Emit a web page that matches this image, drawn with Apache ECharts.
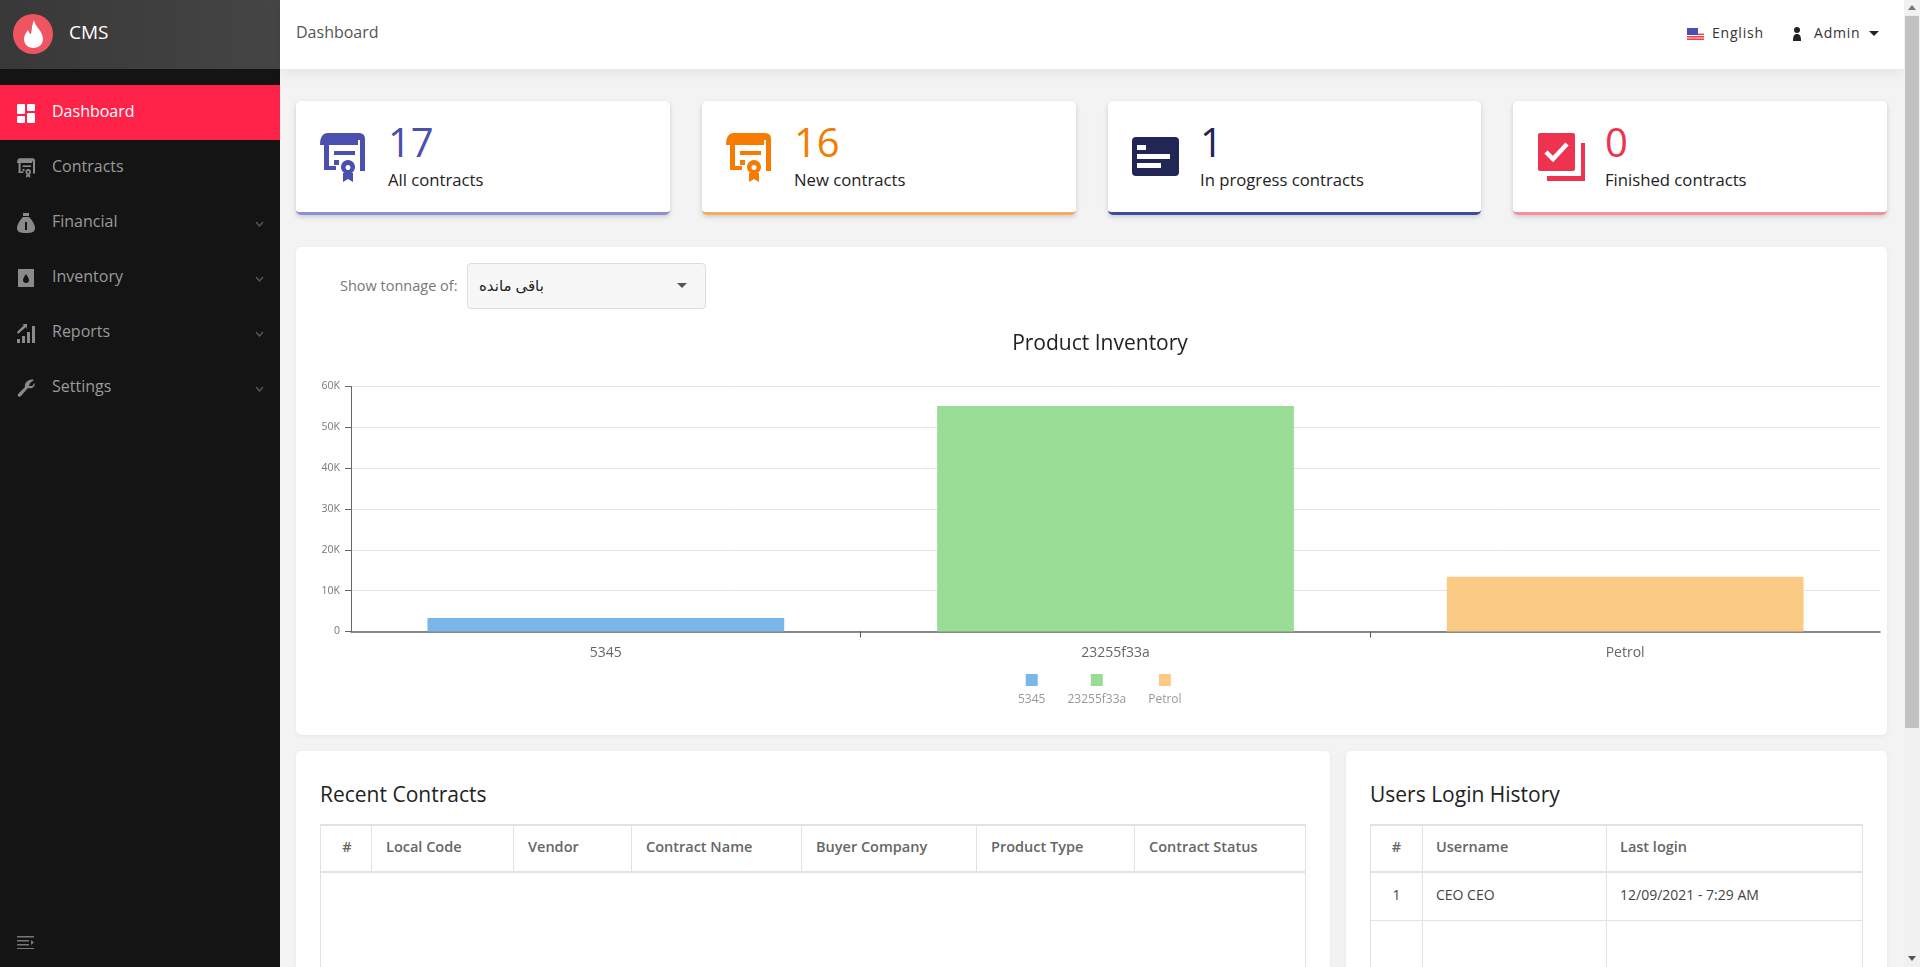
<!DOCTYPE html>
<html>
<head>
<meta charset="utf-8">
<title>CMS</title>
<script src="https://cdn.jsdelivr.net/npm/echarts@6/dist/echarts.min.js"></script>
<style>
* { box-sizing: border-box; }
html, body { margin: 0; height: 100%; overflow: hidden; }
body { width: 1920px; height: 967px; background: #f3f3f3; font-family: 'Open Sans', 'DejaVu Sans', sans-serif; color: #222; position: relative; }
.abs { position: absolute; white-space: nowrap; }

.sidebar { position: absolute; left: 0; top: 0; width: 280px; height: 967px; background: #141414; }
.brand { position: absolute; left: 0; top: 0; width: 280px; height: 69px; background: linear-gradient(90deg, #383838, #454545); }
.brand .name { position: absolute; left: 69px; top: 20px; font-size: 19px; line-height: 24px; color: #fff; font-weight: 500; }
.menu { position: absolute; left: 0; width: 280px; height: 55px; color: #9a9a9a; font-size: 16px; line-height: 53px; padding-left: 52px; }
.menu.active { background: #ff2248; color: #fff; }
.menu svg.ico { position: absolute; left: 17px; top: 18px; width: 18px; height: 20px; }
.menu svg.chev { position: absolute; left: 255px; top: 26px; width: 9px; height: 6px; }

.topbar { position: absolute; left: 280px; top: 0; width: 1624px; height: 69px; background: #fff; box-shadow: 0 2px 14px rgba(0,0,0,.08); }
.card { position: absolute; background: #fff; border-radius: 5px; box-shadow: 0 1px 4px rgba(0,0,0,.06); }
.stat { top: 101px; width: 374px; height: 114px; border-bottom: 3px solid; box-shadow: 0 2px 5px rgba(0,0,0,.16); }
.stat .num { position: absolute; left: 92px; top: 14px; font-size: 40px; line-height: 54px; font-weight: 500; }
.stat .lbl { position: absolute; left: 92px; top: 68px; font-size: 16.7px; line-height: 22px; color: #222; font-weight: 500; }
.stat svg { position: absolute; }

#chart { position: absolute; left: 296px; top: 320px; width: 1591px; height: 415px; }
.select { position: absolute; left: 467px; top: 263px; width: 239px; height: 46px; background: #f7f7f7; border: 1px solid #ddd; border-radius: 4px; font-size: 15px; line-height: 43px; padding-left: 11px; color: #222; }
.caret { position: absolute; width: 0; height: 0; border-left: 5px solid transparent; border-right: 5px solid transparent; border-top: 5px solid #555; }

h4 { position: absolute; margin: 0; font-size: 21px; line-height: 26px; font-weight: 500; color: #222; white-space: nowrap; }
table { position: absolute; border-collapse: collapse; table-layout: fixed; font-size: 14px; background: #fff; }
th, td { border: 1px solid #e2e2e2; padding: 0 0 4px 13px; text-align: left; white-space: nowrap; }
th { border-top-width: 2px; border-bottom-width: 2px; height: 47px; color: #666; font-weight: 600; font-size: 14.5px; }
td { height: 48px; color: #444; }
th.c, td.c { text-align: center; padding: 0 0 4px 0; }
.recent th { padding-left: 14px; }
.recent th.c { padding-left: 2px; }

.sb { position: absolute; left: 1904px; top: 0; width: 16px; height: 967px; background: #f1f1f1; }
.sb .thumb { position: absolute; left: 1px; top: 16px; width: 14px; height: 712px; background: #c1c1c1; }
</style>
</head>
<body>

<svg width="0" height="0" style="position:absolute">
  <symbol id="cert" viewBox="0 0 45 49">
    <path d="M0 12 Q0 0 8 0 H39 Q45 0 45 6 V38 H40 V7 H38 V12 Z"/>
    <rect x="4" y="12" width="5" height="25"/>
    <rect x="4" y="33" width="12" height="4"/>
    <rect x="14" y="18" width="21" height="4"/>
    <rect x="14" y="27" width="5" height="5"/>
    <path fill-rule="evenodd" d="M28 27 a7 7 0 1 1 -0.01 0 Z M28 32 a2.5 2.5 0 1 0 0.01 0 Z"/>
    <path d="M23 40 L33 40 L33 49 L28 46 L23 49 Z"/>
  </symbol>
  <symbol id="chev" viewBox="0 0 9 6">
    <path d="M1 1 L4.5 5 L8 1" fill="none" stroke="#555" stroke-width="1.5"/>
  </symbol>
</svg>

<div class="sidebar">
  <div class="brand">
    <svg class="abs" style="left:13px;top:14px" width="40" height="40" viewBox="0 0 40 40">
      <circle cx="20" cy="20" r="20" fill="#ef5560"/>
      <path d="M21 6 C22 13 30 17 30 25 C30 31 25 34 20 34 C15 34 11 30 11 25 C11 21 13 19 15 16 C16 19 17 20 18 20 C19 15 19 10 21 6 Z" fill="#fff"/>
    </svg>
    <div class="name">CMS</div>
  </div>
  <div class="menu active" style="top:85px">Dashboard
    <svg class="ico" viewBox="0 0 18 20" fill="#fff"><rect x="0" y="1" width="8" height="10" rx="1"/><rect x="10" y="1" width="8" height="7" rx="1"/><rect x="0" y="13" width="8" height="7" rx="1"/><rect x="10" y="10" width="8" height="10" rx="1"/></svg>
  </div>
  <div class="menu" style="top:140px">Contracts
    <svg class="ico" fill="#8a8a8a"><use href="#cert"/></svg>
  </div>
  <div class="menu" style="top:195px">Financial
    <svg class="ico" viewBox="0 0 18 20" fill="#8a8a8a"><rect x="6" y="0" width="6" height="3"/><path d="M6 4 H12 C16 8 18 12 18 15 C18 19 15 20 9 20 C3 20 0 19 0 15 C0 12 2 8 6 4 Z"/><rect x="8" y="9" width="2" height="8" fill="#141414"/></svg>
    <svg class="chev"><use href="#chev"/></svg>
  </div>
  <div class="menu" style="top:250px">Inventory
    <svg class="ico" viewBox="0 0 18 20" fill="#8a8a8a"><path fill-rule="evenodd" d="M1 1 H17 V19 H1 Z M9 6 C7 9 6 11 6 12 C6 14 7 15 9 15 C11 15 12 14 12 12 C12 11 11 9 9 6 Z"/></svg>
    <svg class="chev"><use href="#chev"/></svg>
  </div>
  <div class="menu" style="top:305px">Reports
    <svg class="ico" viewBox="0 0 18 20" fill="#8a8a8a"><rect x="0" y="16" width="3" height="4"/><rect x="5" y="13" width="3" height="7"/><rect x="10" y="9" width="3" height="11"/><rect x="15" y="3" width="3" height="17"/><path d="M0 9 L7 2 L5 1 H10 V6 L9 4 L1 11 Z"/></svg>
    <svg class="chev"><use href="#chev"/></svg>
  </div>
  <div class="menu" style="top:360px">Settings
    <svg class="ico" viewBox="0 0 18 20" fill="#8a8a8a"><path d="M17 2 L13 5 L12 8 L15 8 L18 5 C18 9 15 11 11 10 L4 18 C2 20 0 18 1 16 L8 9 C7 5 12 0 17 2 Z"/></svg>
    <svg class="chev"><use href="#chev"/></svg>
  </div>
  <svg class="abs" style="left:17px;top:936px" width="18" height="13" viewBox="0 0 18 13" fill="#777"><rect y="0" width="17" height="1.5"/><rect y="4" width="12" height="1.5"/><rect y="8" width="12" height="1.5"/><rect y="12" width="17" height="1.5"/><path d="M14 4 L17 6.5 L14 9 Z"/></svg>
</div>

<div class="topbar">
  <div class="abs" style="left:16px;top:21px;font-size:16px;line-height:22px;color:#555">Dashboard</div>
  <svg class="abs" style="left:1407px;top:28px" width="17" height="12" viewBox="0 0 17 12">
    <rect width="17" height="12" fill="#fff"/><rect y="8" width="17" height="1.6" fill="#f0404a"/><rect y="10.4" width="17" height="1.6" fill="#f0404a"/><rect y="5.6" width="17" height="1.4" fill="#f0404a"/><rect width="11" height="7" fill="#4a4fb0"/>
  </svg>
  <div class="abs" style="left:1432px;top:23px;font-size:14px;line-height:20px;letter-spacing:.8px;color:#333">English</div>
  <svg class="abs" style="left:1511px;top:27px" width="12" height="14" viewBox="0 0 12 14" fill="#222"><circle cx="6" cy="3" r="3"/><path d="M2 14 C2 9 3 7 6 7 C9 7 10 9 10 14 Z"/></svg>
  <div class="abs" style="left:1534px;top:23px;font-size:14px;line-height:20px;letter-spacing:.8px;color:#333">Admin</div>
  <div class="caret" style="left:1589px;top:31px;border-top-color:#222"></div>
</div>

<div class="card stat" style="left:296px;border-color:#8e90d6">
  <svg style="left:24px;top:32px" width="45" height="49" fill="#4a4fb0"><use href="#cert"/></svg>
  <div class="num" style="color:#4a4fb0">17</div><div class="lbl">All contracts</div>
</div>
<div class="card stat" style="left:702px;border-color:#f8ab5c">
  <svg style="left:24px;top:32px" width="45" height="49" fill="#f57c00"><use href="#cert"/></svg>
  <div class="num" style="color:#f57c00">16</div><div class="lbl">New contracts</div>
</div>
<div class="card stat" style="left:1108px;width:373px;border-color:#3f4a9e">
  <svg style="left:24px;top:36px" width="47" height="39" viewBox="0 0 47 39"><rect width="47" height="39" rx="4" fill="#212654"/><rect x="5" y="8" width="9" height="5" fill="#fff"/><rect x="5" y="17" width="33" height="5" fill="#fff"/><rect x="5" y="26" width="24" height="5" fill="#fff"/></svg>
  <div class="num" style="color:#212654">1</div><div class="lbl">In progress contracts</div>
</div>
<div class="card stat" style="left:1513px;border-color:#f6909f">
  <svg style="left:25px;top:32px" width="47" height="48" viewBox="0 0 47 48"><path d="M9 43 H43 V10 H47 V48 H9 Z" fill="#ee3350"/><rect width="37" height="38" rx="2" fill="#ee3350"/><path d="M8 19 L15 26 L29 11" fill="none" stroke="#fff" stroke-width="4.5"/></svg>
  <div class="num" style="color:#ee3350">0</div><div class="lbl">Finished contracts</div>
</div>

<div class="card" style="left:296px;top:247px;width:1591px;height:488px"></div>
<div class="abs" style="left:340px;top:276px;font-size:14.5px;line-height:20px;color:#777">Show tonnage of:</div>
<div class="select">باقی مانده<div class="caret" style="left:209px;top:19px"></div></div>
<div id="chart"></div>

<div class="card" style="left:296px;top:751px;width:1034px;height:230px"></div>
<h4 style="left:320px;top:781px">Recent Contracts</h4>
<table class="recent" style="left:320px;top:824px;width:986px">
  <colgroup><col style="width:51px"><col style="width:142px"><col style="width:118px"><col style="width:170px"><col style="width:175px"><col style="width:158px"><col></colgroup>
  <tr><th class="c">#</th><th>Local Code</th><th>Vendor</th><th>Contract Name</th><th>Buyer Company</th><th>Product Type</th><th>Contract Status</th></tr>
  <tr><td colspan="7" style="height:150px"></td></tr>
</table>

<div class="card" style="left:1346px;top:751px;width:541px;height:230px"></div>
<h4 style="left:1370px;top:781px">Users Login History</h4>
<table style="left:1370px;top:824px;width:493px">
  <colgroup><col style="width:52px"><col style="width:184px"><col></colgroup>
  <tr><th class="c">#</th><th>Username</th><th>Last login</th></tr>
  <tr><td class="c">1</td><td>CEO CEO</td><td>12/09/2021 - 7:29 AM</td></tr>
  <tr><td style="height:60px"></td><td></td><td></td></tr>
</table>

<div class="sb">
  <div class="thumb"></div>
  <div class="caret" style="left:4px;top:5px;border-top:0;border-bottom:5px solid #777;border-left-width:4px;border-right-width:4px"></div>
  <div class="caret" style="left:4px;top:956px;border-top-color:#555;border-left-width:4px;border-right-width:4px"></div>
</div>

<script>
var products = ['5345', '23255f33a', 'Petrol'];
var remaining = [3300, 55200, 13400];
var colors = ['#7ab6ea', '#98dc96', '#fbcb85'];
var yTicks = [0, 10000, 20000, 30000, 40000, 50000, 60000];
var bandTicks = [1, 2];

var chart = echarts.init(document.getElementById('chart'));

var legendRich = { t: { fontSize: 12, color: '#999', align: 'center', height: 16, lineHeight: 16 } };
colors.forEach(function(c, i) {
    legendRich['i' + i] = { backgroundColor: c, width: 12, height: 12, align: 'center', lineHeight: 23 };
});

var option = {
    animation: false,
    textStyle: { fontFamily: 'Open Sans' },
    title: {
        text: 'Product Inventory',
        left: 799,
        top: 9,
        textAlign: 'center',
        textStyle: { fontSize: 21, fontWeight: 500, color: '#222' }
    },
    legend: {
        left: 712,
        top: 349,
        icon: 'none',
        itemWidth: 0,
        itemHeight: 0,
        itemGap: 17,
        selectedMode: false,
        data: products,
        formatter: function(name) {
            return '{i' + products.indexOf(name) + '|}\n{t|' + name + '}';
        },
        textStyle: { rich: legendRich }
    },
    grid: { left: 55, right: 7, top: 66.5, bottom: 103.5 },
    xAxis: [{
        type: 'category',
        data: products,
        axisLine: { lineStyle: { color: '#666', width: 1.5 } },
        axisTick: { show: false },
        axisLabel: { fontSize: 14, color: '#666', margin: 15 }
    }, {
        // only the ticks between the bands, the first and last one are not drawn
        type: 'value',
        position: 'bottom',
        min: 0,
        max: products.length,
        axisLine: { show: false },
        axisLabel: { show: false },
        splitLine: { show: false },
        axisTick: { show: true, length: 6, customValues: bandTicks, lineStyle: { color: '#555' } }
    }],
    yAxis: {
        type: 'value',
        min: yTicks[0],
        max: yTicks[yTicks.length - 1],
        interval: yTicks[1] - yTicks[0],
        axisLine: { show: true, lineStyle: { color: '#666' } },
        axisTick: { show: true, length: 6, lineStyle: { color: '#666' } },
        splitLine: { lineStyle: { color: '#e2e2e2' } },
        axisLabel: {
            fontSize: 10.5,
            color: '#777',
            margin: 11,
            padding: [2, 0, 0, 0],
            formatter: function(v) { return v ? (v / 1000) + 'K' : '0'; }
        }
    },
    series: products.map(function(name, i) {
        return {
            name: name,
            type: 'bar',
            stack: 'inventory',
            barWidth: '70%',
            itemStyle: { color: colors[i] },
            data: products.map(function(p, j) { return j === i ? remaining[i] : null; })
        };
    })
};

chart.setOption(option);
</script>
</body>
</html>
